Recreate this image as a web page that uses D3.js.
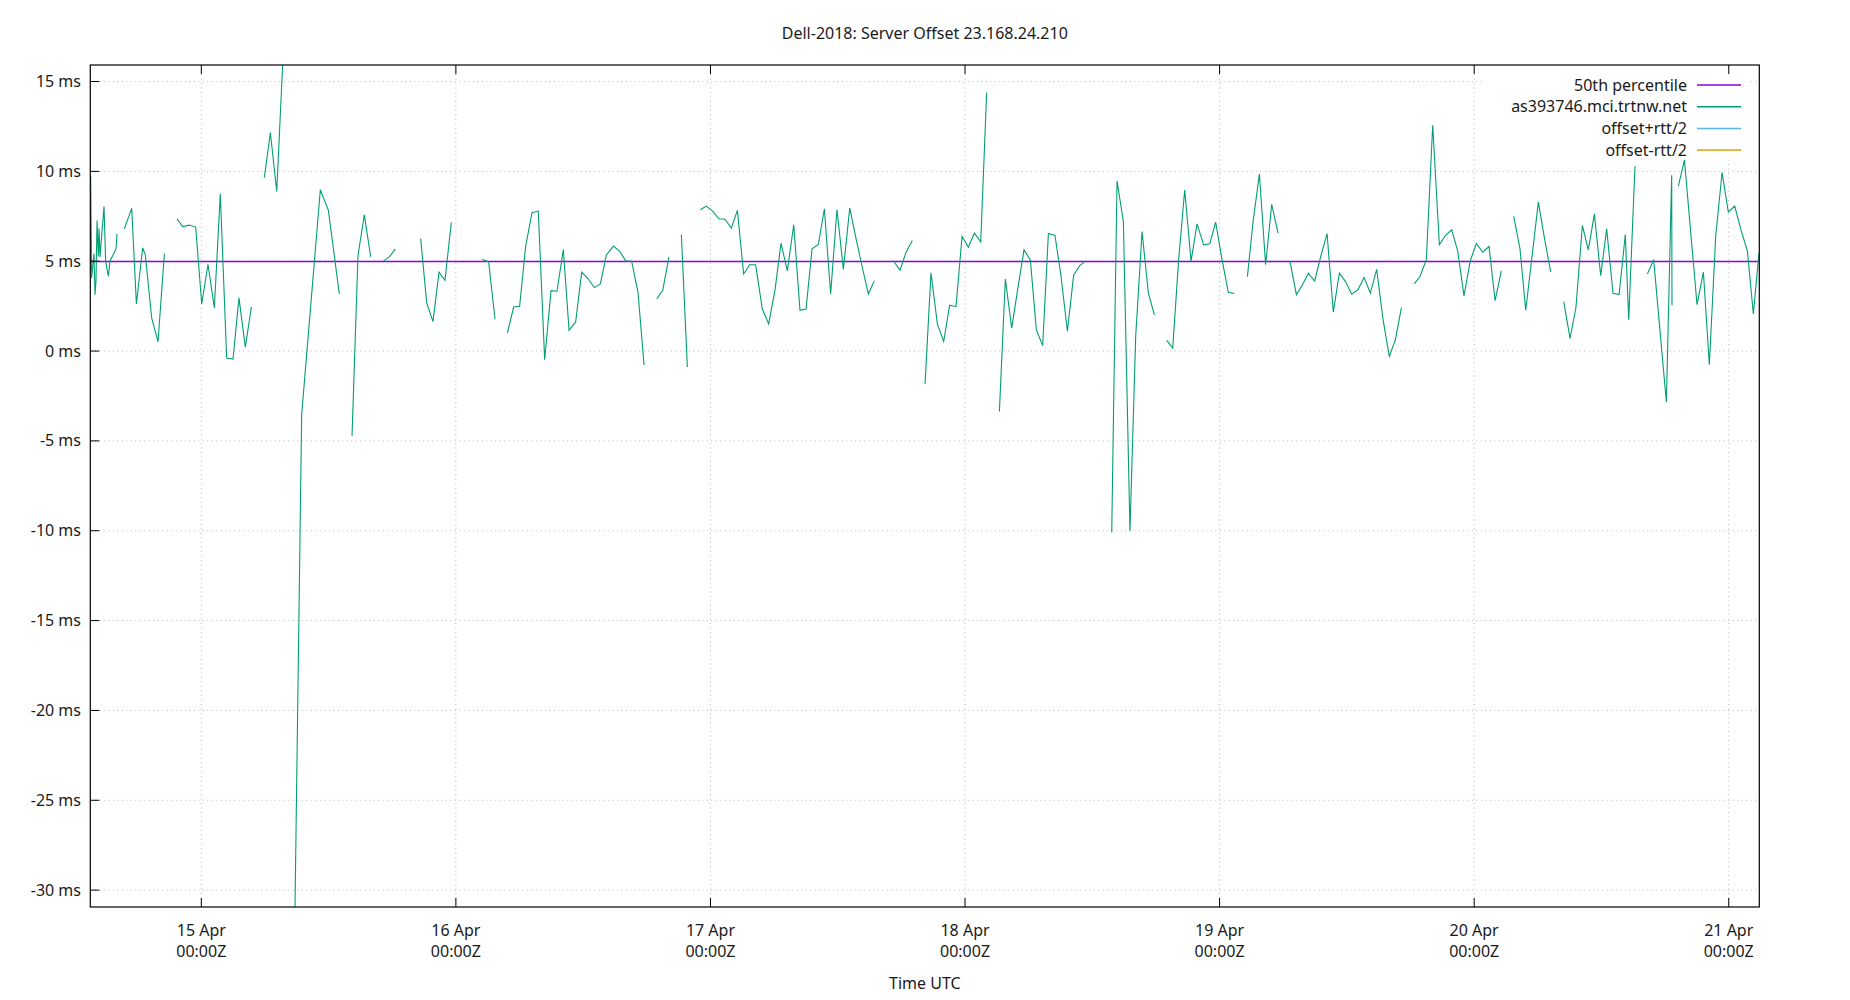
<!DOCTYPE html>
<html>
<head>
<meta charset="utf-8">
<script src="https://cdn.jsdelivr.net/npm/d3@7"></script>
<style>
  body { margin: 0; background: #fff; }
  svg { font-family: "Noto Sans", sans-serif; font-size: 16px; }
</style>
</head>
<body>
<svg id="chart"></svg>
<script>
// hours since 14 Apr 00:00Z, null = gap in the series
const hours = [
  13.57, 13.66, 13.88, 13.98, 14.07, 14.17, 14.29, 14.36, 14.45, 14.83, 14.98, 15.24, 15.39, 15.96, 16.05, null,
  16.74, 17.44, 17.88, 18.47, 18.72, 19.32, 19.92, 20.52, null,
  21.71, 22.24, 22.87, 23.47, 24.04, 24.63, 25.23, 25.79, 26.39, 26.99, 27.55, 28.15, 28.72, null,
  29.94, 30.51, 31.11, 32.22, null, 32.81, 33.46, 34.66, 35.22, 35.98, 37.01, null,
  38.21, 38.77, 39.37, 39.97, null,
  41.19, 41.73, 42.29, null,
  44.68, 45.25, 45.84, 46.41, 46.97, 47.57, null,
  50.49, 51.09, 51.69, null,
  52.85, 53.45, 54.01, 54.58, 55.18, 55.77, 56.37, 56.97, 57.53, 58.13,
  58.67, 59.29, 59.86, 60.43, 61.05, 61.62, 62.19, 62.85, 63.41, 64.01, 64.57, 65.17, 65.74, null,
  66.93, 67.50, 68.09, null,
  69.26, 69.82, null,
  71.05, 71.61, 72.21, 72.78, 73.37, 73.97, 74.54, 75.13, 75.70, 76.26, 76.89, 77.49, 78.09, 78.65, 79.25, 79.85, 80.44,
  81.01, 81.58, 82.17, 82.74, 83.33, 83.93, 84.53, 85.13, 85.69, 86.29, 86.89, 87.45, null,
  89.24, 89.87, 90.44, 91.03, null,
  92.23, 92.79, 93.39, 93.99, 94.55, 95.15, 95.72, 96.31, 96.88, 97.48, 98.04, null,
  99.24, 99.80, 100.40, 100.96, 101.56, 102.16, 102.72, 103.32,
  103.86, 104.48, 105.05, 105.65, 106.24, 106.81, 107.38, null,
  109.83, 110.33, 110.93, 111.55, 112.09, 112.69, 113.28, 113.85, null,
  115.01, 115.58, 116.14, 116.71, 117.31, 117.87, 118.50, 119.07, 119.63, 120.23, 120.82, 121.39, null,
  122.62, 123.18, 123.75, 124.34, 124.91, 125.51, null,
  126.64, 127.24, 127.80, 128.37, 128.96, 129.53, 130.13, 130.72, 131.29, 131.89,
  132.45, 133.05, 133.62, 134.21, 134.81, 135.41, 136.00, 136.57, 137.14, null,
  138.36, 138.90, 139.49, 140.09, 140.72, 141.28, 141.88, 142.45, 143.04, 143.64, 144.21, 144.80, 145.40, 145.97, 146.56, null,
  147.73, 148.32, 148.86, 150.05, 150.62, 151.21, null,
  152.44, 153.04, 153.60, 154.20, 154.76, 155.33, 155.93, 156.49, 157.09, 157.66, 158.25, 158.57, 159.16, null,
  160.33, 160.92, 162.12, 162.62, 162.65, null,
  163.25, 163.82, 165.01, 165.61, 166.17, 166.77, 167.37, 167.96, 168.56, 169.16, 169.76, 170.32, 170.85
];

// offset in ms for as393746.mci.trtnw.net
const offsets = [
  9.74, 4.07, 5.43, 3.14, 3.88, 7.27, 5.28, 6.82, 5.24, 8.05, 5.00, 4.16, 5.00, 5.69, 6.52, null,
  6.80, 7.94, 2.62, 5.74, 5.37, 1.84, 0.52, 5.43, null,
  7.36, 6.93, 7.01, 6.90, 2.62, 4.83, 2.40, 8.75, -0.39, -0.45, 2.96, 0.22, 2.45, null,
  9.65, 12.16, 8.88, 22.9, null, -32.0, -3.55, 4.98, 8.98, 7.83, 3.18, null,
  -4.72, 5.32, 7.58, 5.24, null,
  5.02, 5.24, 5.69, null,
  6.26, 2.68, 1.64, 4.39, 3.94, 7.16, null,
  5.11, 4.96, 1.77, null,
  1.00, 2.45, 2.49, 5.84, 7.70, 7.79, -0.48, 3.36, 3.33, 5.65,
  1.15, 1.62, 4.39, 4.05, 3.53, 3.74, 5.35, 5.84, 5.58, 5.02, 5.00, 3.27, -0.78, null,
  2.90, 3.38, 5.24, null,
  6.49, -0.89, null,
  7.86, 8.07, 7.79, 7.36, 7.34, 6.84, 7.83, 4.29, 4.80, 4.80, 2.34, 1.51, 3.42, 6.00, 4.46, 7.03, 2.27,
  2.34, 5.69, 5.93, 7.92, 3.18, 7.88, 4.54, 7.96, 6.36, 4.72, 3.18, 3.92, null,
  5.04, 4.50, 5.50, 6.15, null,
  -1.84, 4.35, 1.51, 0.54, 2.55, 2.47, 6.39, 5.78, 6.56, 6.08, 14.39, null,
  -3.36, 4.01, 1.28, 3.42, 5.63, 5.07, 1.19, 0.30,
  6.54, 6.43, 4.16, 1.10, 4.22, 4.76, 5.02, null,
  -10.1, 9.48, 7.19, -10.0, 0.82, 6.65, 3.23, 2.01, null,
  0.59, 0.17, 5.09, 8.96, 5.00, 7.08, 5.91, 5.97, 7.17, 5.09, 3.27, 3.20, null,
  4.14, 7.32, 9.85, 4.80, 8.16, 6.56, null,
  4.98, 3.14, 3.68, 4.33, 3.90, 5.26, 6.54, 2.17, 4.33, 3.85,
  3.16, 3.42, 4.09, 3.23, 4.54, 1.75, -0.30, 0.63, 2.42, null,
  3.74, 4.16, 5.09, 12.57, 5.91, 6.43, 6.75, 5.56, 3.07, 5.04, 5.99, 5.50, 5.82, 2.81, 4.46, null,
  7.49, 5.69, 2.27, 8.29, 6.30, 4.41, null,
  2.75, 0.71, 2.45, 6.99, 5.63, 7.62, 4.20, 6.80, 3.22, 3.14, 6.49, 1.75, 10.30, null,
  4.29, 5.09, -2.84, 9.78, 2.55, null,
  9.18, 10.63, 2.58, 4.39, -0.76, 6.39, 9.94, 7.73, 8.07, 6.73, 5.56, 2.06, 5.46
];

const median = 4.98;
const yTicks = [-30, -25, -20, -15, -10, -5, 0, 5, 10, 15];
const xTickDays = ["2024-04-15", "2024-04-16", "2024-04-17", "2024-04-18", "2024-04-19", "2024-04-20", "2024-04-21"];
const legendLabels = ["50th percentile", "as393746.mci.trtnw.net", "offset+rtt/2", "offset-rtt/2"];
const legendColors = ["#9400d3", "#009e73", "#56b4e9", "#e69f00"];

const startTime = Date.UTC(2024, 3, 14);
const hourToDate = (h) => new Date(startTime + h * 3600e3);

const width = 1850;
const height = 1000;
const plotLeft = 90.3, plotRight = 1759.3, plotTop = 65, plotBottom = 907;

const svg = d3.select("#chart").attr("width", width).attr("height", height);

const x = d3.scaleUtc()
  .domain([hourToDate(13.535), hourToDate(170.88)])
  .range([plotLeft, plotRight]);
const y = d3.scaleLinear().domain([-30.94, 15.92]).range([plotBottom, plotTop]);

const points = hours.map((h, i) => ({ t: h === null ? null : hourToDate(h), v: offsets[i] }));

// clip to the plot box
svg.append("clipPath").attr("id", "plotclip")
  .append("rect")
  .attr("x", plotLeft).attr("y", plotTop)
  .attr("width", plotRight - plotLeft).attr("height", plotBottom - plotTop);

// grid
const grid = svg.append("g").attr("stroke", "#b4b4b4").attr("stroke-width", 1).attr("stroke-dasharray", "1,3.5");
grid.selectAll(".gy").data(yTicks).enter().append("line")
  .attr("x1", plotLeft).attr("x2", plotRight)
  .attr("y1", (d) => y(d)).attr("y2", (d) => y(d));
grid.selectAll(".gx").data(xTickDays).enter().append("line")
  .attr("x1", (d) => x(new Date(d))).attr("x2", (d) => x(new Date(d)))
  .attr("y1", plotTop).attr("y2", plotBottom);

const plot = svg.append("g").attr("clip-path", "url(#plotclip)");

// median line
plot.append("line")
  .attr("x1", plotLeft).attr("x2", plotRight)
  .attr("y1", y(median)).attr("y2", y(median))
  .attr("stroke", legendColors[0]).attr("stroke-width", 1.5);

// offset series
const line = d3.line()
  .defined((d) => d.v !== null && d.t !== null)
  .x((d) => x(d.t))
  .y((d) => y(d.v));

plot.append("path")
  .datum(points)
  .attr("d", line)
  .attr("fill", "none")
  .attr("stroke", legendColors[1])
  .attr("stroke-width", 1.1);

// opaque key
svg.append("rect")
  .attr("x", 1484).attr("y", 66)
  .attr("width", 264).attr("height", 94)
  .attr("fill", "#fff");

const key = svg.selectAll(".key").data(legendLabels).enter().append("g")
  .attr("transform", (d, i) => `translate(0,${85 + i * 21.7})`);
key.append("text")
  .attr("x", 1687).attr("dy", "0.35em")
  .attr("text-anchor", "end")
  .attr("fill", "#1a1a1a")
  .text((d) => d);
key.append("line")
  .attr("x1", 1697).attr("x2", 1741)
  .attr("stroke", (d, i) => legendColors[i])
  .attr("stroke-width", 1.5);

// frame
svg.append("rect")
  .attr("x", plotLeft).attr("y", plotTop)
  .attr("width", plotRight - plotLeft).attr("height", plotBottom - plotTop)
  .attr("fill", "none").attr("stroke", "#000").attr("stroke-width", 1.2);

// y ticks + labels
const yAxis = svg.append("g");
yAxis.selectAll("line").data(yTicks).enter().append("line")
  .attr("x1", plotLeft).attr("x2", plotLeft + 9)
  .attr("y1", (d) => y(d)).attr("y2", (d) => y(d))
  .attr("stroke", "#000");
yAxis.selectAll("text").data(yTicks).enter().append("text")
  .attr("x", 81).attr("y", (d) => y(d)).attr("dy", "0.35em")
  .attr("text-anchor", "end")
  .attr("fill", "#1a1a1a")
  .text((d) => `${d} ms`);

// x ticks (bottom and mirrored top) + labels
const fmtDay = d3.utcFormat("%-d %b");
const fmtTime = d3.utcFormat("%H:%MZ");
const xAxis = svg.append("g");
xTickDays.forEach((day) => {
  const t = new Date(day);
  const px = x(t);
  xAxis.append("line").attr("x1", px).attr("x2", px).attr("y1", plotBottom).attr("y2", plotBottom - 9).attr("stroke", "#000");
  xAxis.append("line").attr("x1", px).attr("x2", px).attr("y1", plotTop).attr("y2", plotTop + 9).attr("stroke", "#000");
  xAxis.append("text").attr("x", px).attr("y", 936).attr("text-anchor", "middle").attr("fill", "#1a1a1a").text(fmtDay(t));
  xAxis.append("text").attr("x", px).attr("y", 957).attr("text-anchor", "middle").attr("fill", "#1a1a1a").text(fmtTime(t));
});

// titles
svg.append("text")
  .attr("x", (plotLeft + plotRight) / 2).attr("y", 39)
  .attr("text-anchor", "middle").attr("fill", "#1a1a1a")
  .text("Dell-2018: Server Offset 23.168.24.210");
svg.append("text")
  .attr("x", (plotLeft + plotRight) / 2).attr("y", 989)
  .attr("text-anchor", "middle").attr("fill", "#1a1a1a")
  .text("Time UTC");
</script>
</body>
</html>
